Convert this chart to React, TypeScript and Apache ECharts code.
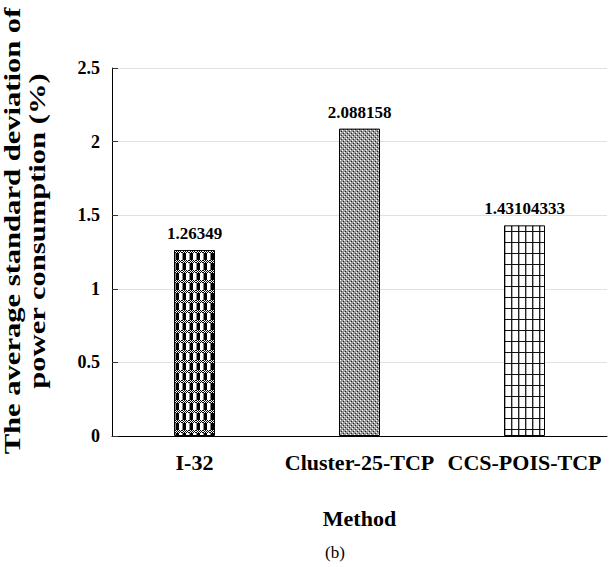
import React, { useEffect, useRef } from "react";
import * as echarts from "echarts";

const categories = ["I-32", "Cluster-25-TCP", "CCS-POIS-TCP"];
const values = [1.26349, 2.088158, 1.43104333];
const valueLabels = ["1.26349", "2.088158", "1.43104333"];
const yTicks = { min: 0, max: 2.5, interval: 0.5 };
const yTitleLines = ["The average standard deviation of", "power consumption (%)"];
const xTitle = "Method";
const caption = "(b)";

const FONT = "'Liberation Serif', 'Times New Roman', serif";

function makeTile(w: number, h: number, fn: (x: number, y: number) => string) {
  const c = document.createElement("canvas");
  c.width = w;
  c.height = h;
  const ctx = c.getContext("2d")!;
  for (let y = 0; y < h; y++) {
    for (let x = 0; x < w; x++) {
      ctx.fillStyle = fn(x, y);
      ctx.fillRect(x, y, 1, 1);
    }
  }
  return c;
}

export default function App() {
  const ref = useRef<HTMLDivElement>(null);
  useEffect(() => {
    document.body.style.margin = "0";
    if (!ref.current) return;
    const chart = echarts.init(ref.current, undefined, { renderer: "svg" });

    const t1 = makeTile(7, 10, (x, y) => {
      if (y < 3) return (x + y) % 2 === 0 ? "#000" : "#fff";
      if (x === 0) return "#888";
      if (x <= 3) return "#000";
      return "#fff";
    });
    const t2 = makeTile(4, 4, (x, y) => {
      if ((x === 0 && y === 0) || (x === 2 && y === 2)) return "#fff";
      if ((x === 1 && y === 3) || (x === 3 && y === 1)) return "#222";
      return "#9a9a9a";
    });
    const t3 = makeTile(7, 11, (x, y) => {
      if (y === 0) return "#111";
      if (x === 0) return "#222";
      if (x === 1) return "#aaa";
      return "#fff";
    });
    const tiles = [t1, t2, t3];

    const option: any = {
      animation: false,
      backgroundColor: "#fff",
      grid: { left: 112, right: 9, top: 68, bottom: 131 },
      xAxis: {
        type: "category",
        data: categories,
        axisLine: { show: true, lineStyle: { color: "#000", width: 1 } },
        axisTick: { show: false },
        axisLabel: {
          color: "#000",
          fontFamily: FONT,
          fontWeight: "bold",
          fontSize: 22,
          margin: 15,
          interval: 0,
        },
        name: xTitle,
        nameLocation: "middle",
        nameGap: 71,
        nameTextStyle: {
          color: "#000",
          fontFamily: FONT,
          fontWeight: "bold",
          fontSize: 22,
        },
      },
      yAxis: {
        type: "value",
        min: yTicks.min,
        max: yTicks.max,
        interval: yTicks.interval,
        axisLine: { show: true, lineStyle: { color: "#000", width: 1 } },
        axisTick: { show: true, inside: true, length: 6, lineStyle: { color: "#333" } },
        splitLine: { show: true, lineStyle: { color: "#e0e0e0", width: 1 } },
        axisLabel: {
          color: "#000",
          fontFamily: FONT,
          fontWeight: "bold",
          fontSize: 18,
          margin: 12,
        },
      },
      series: [
        {
          type: "bar",
          barWidth: 41,
          data: values.map((v, i) => ({
            value: v,
            itemStyle: {
              color: {
                image: tiles[i],
                repeat: "repeat",
                imageWidth: tiles[i].width,
                imageHeight: tiles[i].height,
              },
              borderColor: "#000",
              borderWidth: 1,
            },
            label: {
              show: true,
              position: "top",
              distance: 8,
              formatter: valueLabels[i],
              color: "#000",
              fontFamily: FONT,
              fontWeight: "bold",
              fontSize: 17,
            },
          })),
        },
      ],
      graphic: [
        {
          type: "text",
          x: 12,
          y: 231,
          rotation: Math.PI / 2,
          scaleX: 1.33,
          style: {
            text: yTitleLines[0],
            fill: "#000",
            font: `bold 23px ${FONT}`,
            textAlign: "center",
            textVerticalAlign: "middle",
          },
        },
        {
          type: "text",
          x: 37,
          y: 231,
          rotation: Math.PI / 2,
          scaleX: 1.33,
          style: {
            text: yTitleLines[1],
            fill: "#000",
            font: `bold 23px ${FONT}`,
            textAlign: "center",
            textVerticalAlign: "middle",
          },
        },
        {
          type: "text",
          x: 335,
          y: 552,
          style: {
            text: caption,
            fill: "#000",
            font: `17px ${FONT}`,
            textAlign: "center",
            textVerticalAlign: "middle",
          },
        },
      ],
    };
    chart.setOption(option);
    return () => chart.dispose();
  }, []);
  return <div ref={ref} style={{ width: 616, height: 567 }} />;
}
